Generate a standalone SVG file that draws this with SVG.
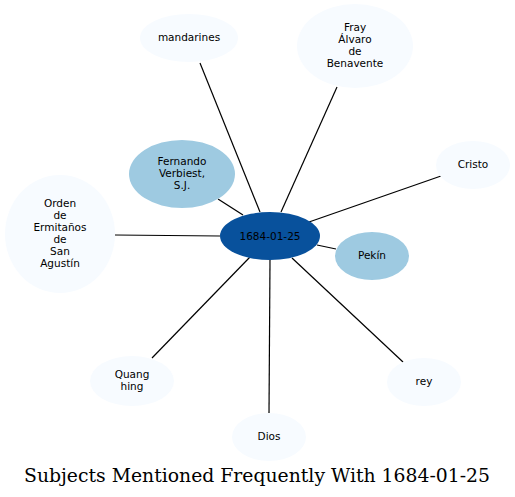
<svg xmlns="http://www.w3.org/2000/svg" width="515" height="497" viewBox="0 0 515 497">
<style>
.n{font-family:"DejaVu Sans",sans-serif;font-size:10.5px;text-anchor:middle;fill:#000}
.l{fill:#f7fbff;stroke:none}
.m{fill:#9ecae1;stroke:none}
.c{fill:#08519c;stroke:none}
#edges line{stroke:#000;stroke-width:1.2}
.t{font-family:"DejaVu Serif",serif;font-size:18px;fill:#000}
</style>
<rect width="515" height="497" fill="#fff"/>
<g id="edges">
<line x1="260" y1="212" x2="200" y2="63"/>
<line x1="281" y1="212" x2="337" y2="87"/>
<line x1="243" y1="215" x2="218" y2="199"/>
<line x1="309" y1="222" x2="441" y2="176"/>
<line x1="220" y1="236" x2="115" y2="235"/>
<line x1="317" y1="245" x2="336" y2="249"/>
<line x1="250" y1="257" x2="152" y2="358"/>
<line x1="270" y1="260" x2="269" y2="413"/>
<line x1="292" y1="258" x2="403" y2="362"/>
</g>
<g id="center"><ellipse class="c" cx="270" cy="236" rx="50" ry="24"/><text class="n" x="270" y="240">1684-01-25</text></g>
<g id="mandarines"><ellipse class="l" cx="189" cy="38" rx="49" ry="24"/><text class="n" x="189" y="41">mandarines</text></g>
<g id="fray"><ellipse class="l" cx="355" cy="46" rx="58" ry="42"/><text class="n" x="355" y="31">Fray</text><text class="n" x="355" y="43">Álvaro</text><text class="n" x="355" y="55">de</text><text class="n" x="355" y="67">Benavente</text></g>
<g id="fernando"><ellipse class="m" cx="182" cy="174" rx="53" ry="34"/><text class="n" x="182" y="165">Fernando</text><text class="n" x="182" y="177">Verbiest,</text><text class="n" x="182" y="189">S.J.</text></g>
<g id="cristo"><ellipse class="l" cx="473" cy="165" rx="37" ry="24"/><text class="n" x="473" y="168">Cristo</text></g>
<g id="orden"><ellipse class="l" cx="60" cy="234" rx="55" ry="59"/><text class="n" x="60" y="207">Orden</text><text class="n" x="60" y="219">de</text><text class="n" x="60" y="231">Ermitaños</text><text class="n" x="60" y="243">de</text><text class="n" x="60" y="255">San</text><text class="n" x="60" y="267">Agustín</text></g>
<g id="pekin"><ellipse class="m" cx="372" cy="256" rx="37" ry="24"/><text class="n" x="372" y="259">Pekín</text></g>
<g id="quang"><ellipse class="l" cx="132" cy="381" rx="42" ry="25"/><text class="n" x="132" y="378">Quang</text><text class="n" x="132" y="390">hing</text></g>
<g id="rey"><ellipse class="l" cx="424" cy="382" rx="37" ry="24"/><text class="n" x="424" y="385">rey</text></g>
<g id="dios"><ellipse class="l" cx="269" cy="437" rx="37" ry="24"/><text class="n" x="269" y="440">Dios</text></g>
<text class="t" x="24" y="482" textLength="466" lengthAdjust="spacingAndGlyphs">Subjects Mentioned Frequently With 1684-01-25</text>
</svg>
